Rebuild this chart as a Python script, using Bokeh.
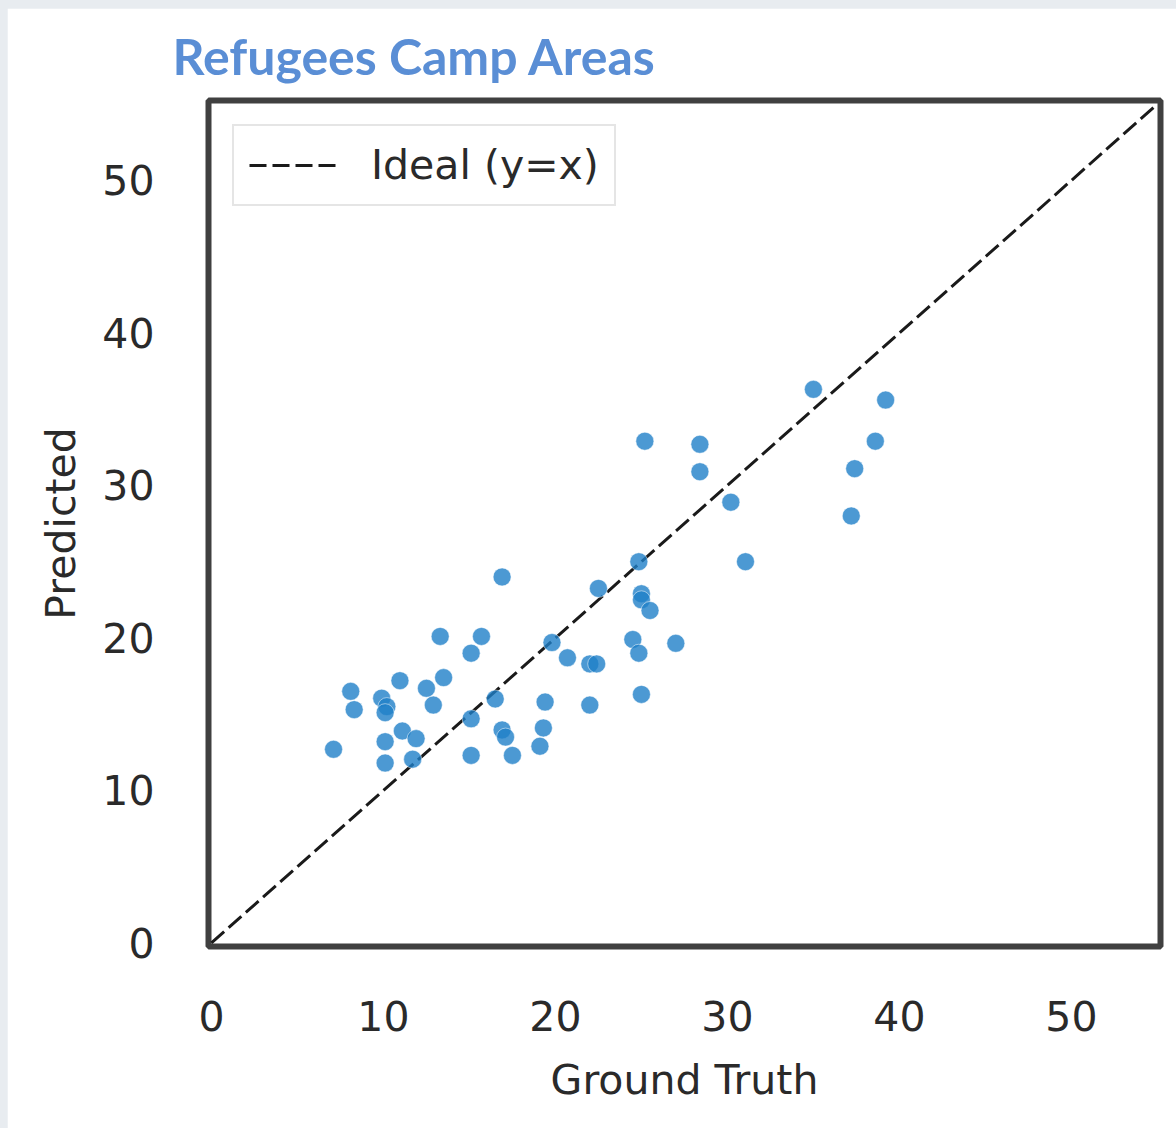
from bokeh.plotting import figure
from bokeh.models import Range1d, FixedTicker, Legend, Title
from bokeh.layouts import column
from bokeh.embed import file_html
from bokeh.resources import INLINE

# ---- data ----
ground_truth = [7.1, 8.1, 8.3, 9.9, 10.2, 10.1, 10.1, 10.1, 10.96, 11.1, 11.9, 11.7,
                12.5, 12.9, 13.3, 13.5, 15.1, 15.7, 15.1, 15.1, 16.5, 16.9, 16.9, 17.1,
                17.5, 19.1, 19.3, 19.4, 19.8, 20.7, 22.0, 22.4, 22.0, 22.5, 24.5, 24.85,
                24.85, 25.0, 25.0, 25.5, 25.0, 25.2, 27.0, 28.4, 28.4, 30.2, 31.05, 35.0,
                37.2, 37.4, 38.6, 39.2]
predicted = [12.7, 16.5, 15.3, 16.05, 15.5, 15.1, 13.2, 11.8, 17.2, 13.9, 13.4, 12.05,
             16.7, 15.6, 20.1, 17.4, 19.0, 20.1, 14.7, 12.3, 16.0, 24.0, 13.97, 13.5,
             12.3, 12.9, 14.1, 15.8, 19.7, 18.7, 18.3, 18.3, 15.6, 23.25, 19.9, 19.0,
             25.0, 22.9, 22.5, 21.8, 16.3, 32.9, 19.65, 32.7, 30.9, 28.9, 25.0, 36.3,
             28.0, 31.1, 32.9, 35.6]
ideal = [0, 55]
ticks = [0, 10, 20, 30, 40, 50]
title_text = "Refugees Camp Areas"
x_label = "Ground Truth"
y_label = "Predicted"
legend_text = "Ideal (y=x)"

FONT = "DejaVu Sans"
TXT = "#2a2a2a"

title = Title(text=title_text, align="left", offset=-36, standoff=30,
              text_font="Lato", text_font_size="50px", text_font_style="bold",
              text_color="#5a8ed5")

p = figure(width=1169, height=1120, output_backend="svg", toolbar_location=None,
           x_range=Range1d(-0.17, 55.18), y_range=Range1d(-0.23, 55.24),
           min_border_left=201, min_border_right=16, min_border_top=92, min_border_bottom=182,
           title=title)
p.margin = (8, 0, 0, 7)
p.background_fill_color = "white"
p.border_fill_color = "white"
p.outline_line_color = "#404040"
p.outline_line_width = 6
p.xgrid.visible = False
p.ygrid.visible = False

line = p.line(ideal, ideal, line_color="#1a1a1a", line_width=3, line_dash="17 6")
p.scatter(ground_truth, predicted, size=18, fill_color="#1f7fc8", fill_alpha=0.8,
          line_color="white", line_alpha=0.5, line_width=1)

for ax in (p.xaxis[0], p.yaxis[0]):
    ax.ticker = FixedTicker(ticks=ticks)
    ax.axis_line_color = None
    ax.major_tick_line_color = None
    ax.minor_tick_line_color = None
    ax.major_label_text_font = FONT
    ax.major_label_text_font_size = "41px"
    ax.major_label_text_color = TXT
    ax.major_label_standoff = 48
    ax.axis_label_text_font = FONT
    ax.axis_label_text_font_size = "41px"
    ax.axis_label_text_font_style = "normal"
    ax.axis_label_text_color = TXT
    ax.axis_label_standoff = 22

p.yaxis[0].axis_label_standoff = 14
p.xaxis[0].axis_label = x_label
p.yaxis[0].axis_label = y_label

legend = Legend(items=[(legend_text, [line])], location="top_left")
legend.margin = 24
legend.padding = 15
legend.border_line_color = "#cccccc"
legend.border_line_width = 2.5
legend.background_fill_color = "white"
legend.background_fill_alpha = 1.0
legend.label_standoff = 35
legend.glyph_width = 87
legend.glyph_height = 48
legend.label_height = 48
legend.label_text_font = FONT
legend.label_text_font_size = "41px"
legend.label_text_color = TXT
p.add_layout(legend, "center")

layout = column(p, width=1176, height=1128, styles={"background-color": "#e8ecf0"})

open("out.html", "w").write(file_html(layout, INLINE))
